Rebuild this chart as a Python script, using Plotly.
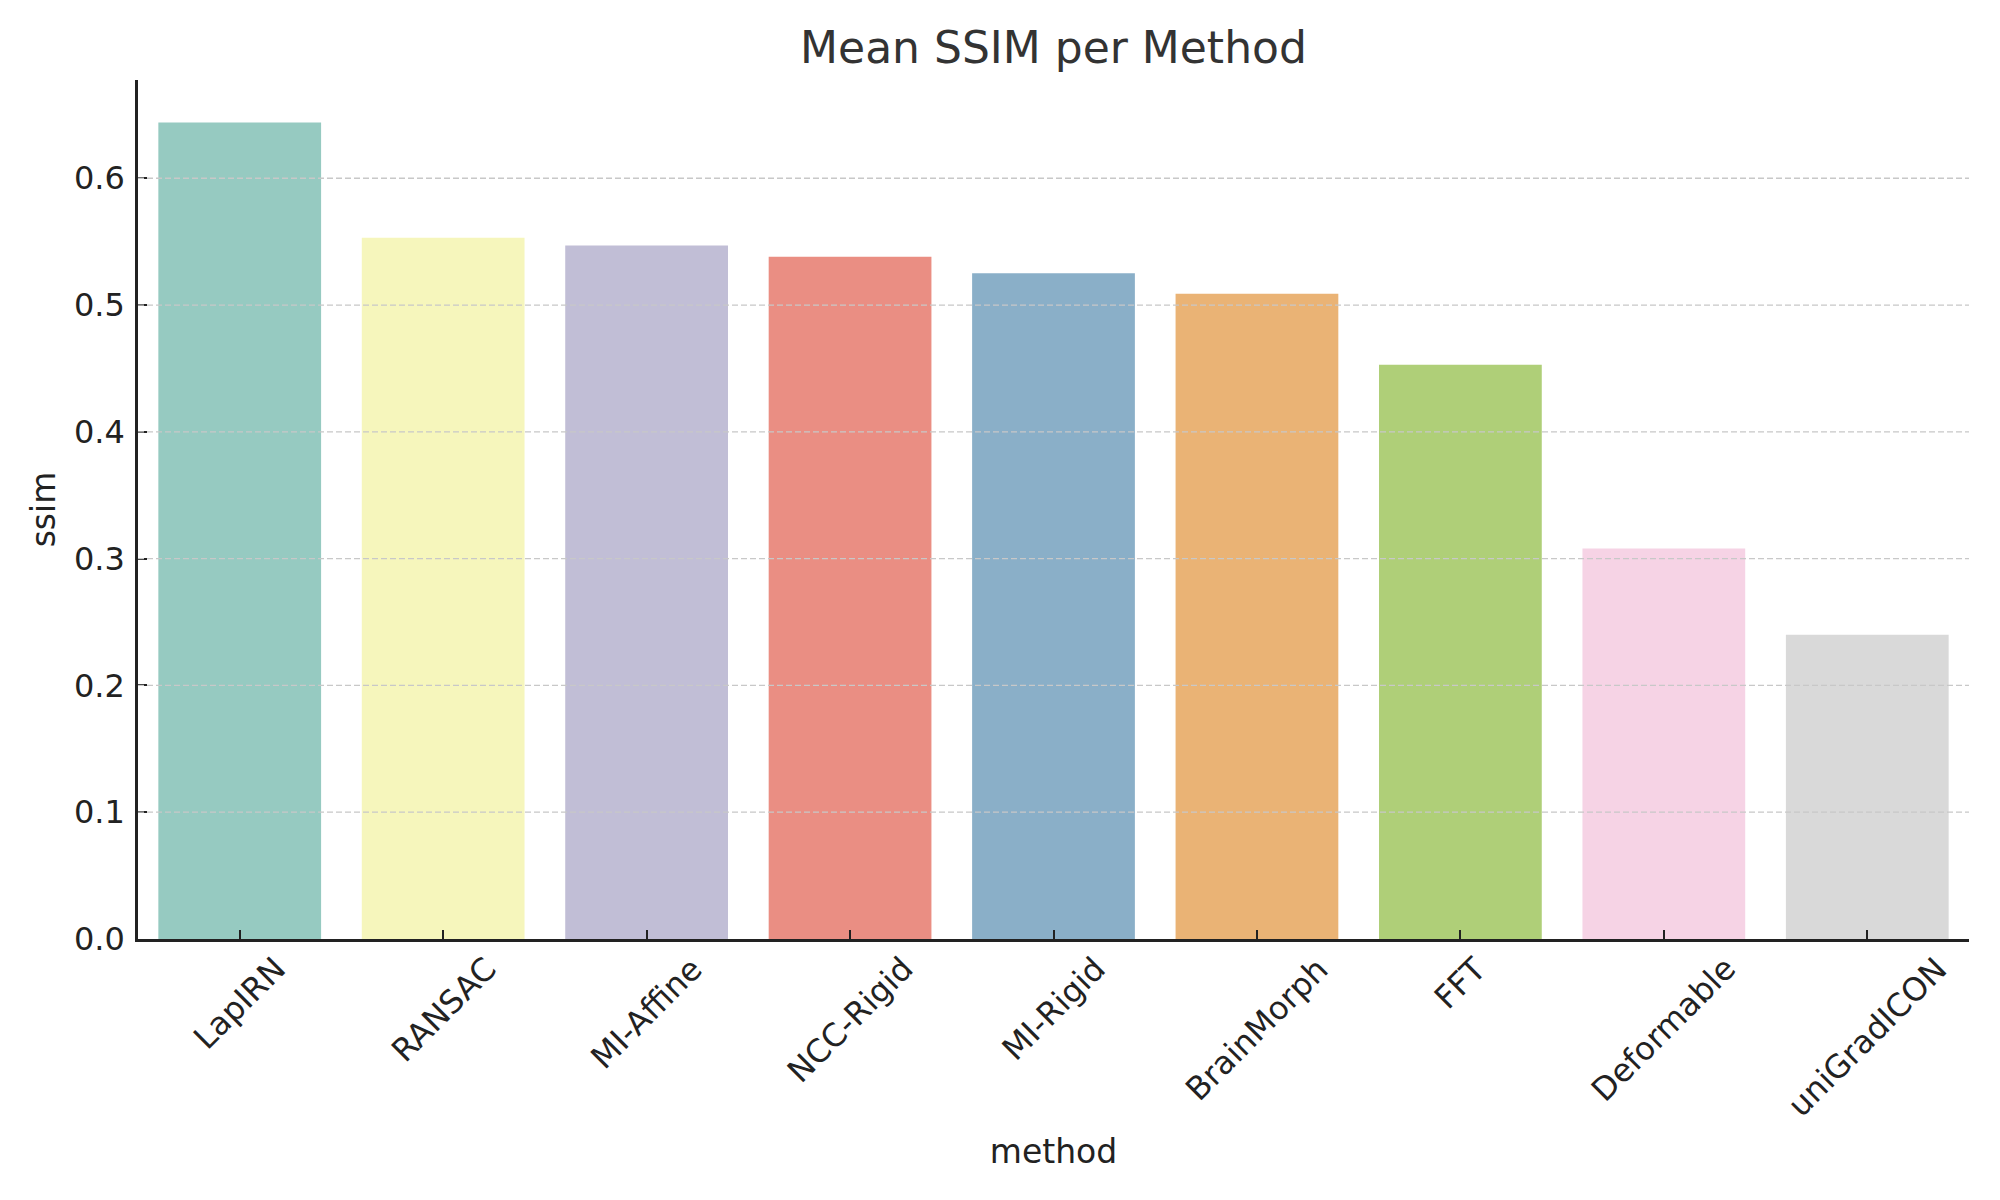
"""Mean SSIM per method - bar chart."""
import plotly.graph_objects as go

# data
methods = ["LapIRN", "RANSAC", "MI-Affine", "NCC-Rigid", "MI-Rigid",
           "BrainMorph", "FFT", "Deformable", "uniGradICON"]
ssim = [0.644, 0.553, 0.547, 0.538, 0.525, 0.509, 0.453, 0.308, 0.240]
y_ticks = [0.0, 0.1, 0.2, 0.3, 0.4, 0.5, 0.6]

# Set3 palette, desaturated like seaborn does
bar_colors = ["#96cac1", "#f6f6bc", "#c1bed6", "#ea8e83", "#8aafc8",
              "#eab375", "#afcf78", "#f6d3e5", "#d9d9d9"]

FONT = "DejaVu Sans"
INK = "#222222"

# the page body adds an 8px offset, so the figure is 8px smaller
W, H = 1992, 1192

fig = go.Figure()
fig.add_trace(go.Bar(
    x=methods, y=ssim,
    width=0.8,
    marker=dict(color=bar_colors, line=dict(width=0)),
    showlegend=False,
))

# dashed y grid, drawn over the bars like in the original
for v in y_ticks[1:]:
    fig.add_shape(
        type="line", xref="paper", yref="y",
        x0=0, x1=1, y0=v, y1=v,
        line=dict(color="#c8c8c8", width=1.3, dash="6px,3px"),
        layer="above",
    )

# rotated category labels, centred under each tick
for m in methods:
    fig.add_annotation(
        x=m, y=0, xref="x", yref="paper",
        text=m, showarrow=False, textangle=-45,
        xanchor="center", yanchor="top", yshift=-8,
        font=dict(family=FONT, size=32, color=INK),
    )

fig.update_layout(
    width=W, height=H, autosize=False,
    margin=dict(l=130, r=31, t=72, b=261),
    paper_bgcolor="white", plot_bgcolor="white",
    font=dict(family=FONT, size=32, color=INK),
    title=dict(
        text="Mean SSIM per Method",
        x=0.5, xref="paper", xanchor="center",
        y=1 - 40 / H, yanchor="middle", yref="container",
        font=dict(family=FONT, size=44, color="#333333"),
    ),
    bargap=0.2,
)

fig.update_xaxes(
    range=[-0.5, len(methods) - 0.5],
    showline=True, linecolor=INK, linewidth=2.5,
    ticks="inside", ticklen=9, tickwidth=2, tickcolor=INK,
    showticklabels=False, showgrid=False, zeroline=False,
    title=dict(text="method", standoff=200,
               font=dict(family=FONT, size=33, color=INK)),
)
fig.update_yaxes(
    range=[0, 0.6775],
    tickvals=y_ticks, tickformat=".1f",
    showline=True, linecolor=INK, linewidth=2.5,
    ticks="inside", ticklen=9, tickwidth=2, tickcolor=INK,
    tickfont=dict(family=FONT, size=32, color=INK),
    ticklabelstandoff=4,
    showgrid=False, zeroline=False,
    title=dict(text="ssim", standoff=9,
               font=dict(family=FONT, size=33, color=INK)),
)

fig.write_html("out.html")
